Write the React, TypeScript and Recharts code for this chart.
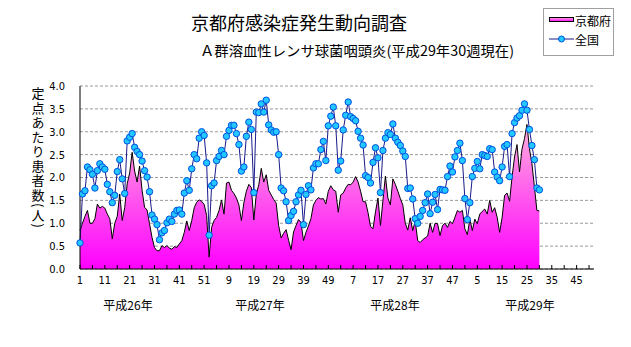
import React from 'react';
import { ComposedChart, Area, Line, XAxis, YAxis, CartesianGrid } from 'recharts';

// ---- data ----
const yearLabels = ['平成26年', '平成27年', '平成28年', '平成29年'];
const weeksPerYear = 52;

// 京都府 (定点あたり患者数) from 平成26年第1週 to 平成29年第30週
const kyotoValues = [
  0.84, 1.00, 1.15, 1.28, 1.00, 1.00, 1.10, 1.42, 1.33, 1.37,
  1.33, 1.20, 1.10, 0.66, 1.00, 1.15, 1.64, 1.06, 1.34, 1.86,
  2.10, 2.55, 2.14, 1.90, 2.25, 1.72, 1.35, 1.29, 0.99, 0.69,
  0.47, 0.40, 0.40, 0.51, 0.47, 0.51, 0.46, 0.43, 0.49, 0.47,
  0.55, 0.62, 0.80, 1.05, 0.84, 1.06, 1.34, 1.46, 1.51, 1.48,
  1.41, 1.17, 0.26, 0.91, 1.06, 1.13, 1.28, 1.51, 1.20, 1.88,
  1.90, 1.72, 1.65, 1.55, 1.40, 1.06, 1.45, 1.70, 1.85, 1.78,
  1.07, 1.64, 1.84, 2.20, 1.90, 2.06, 1.72, 1.62, 1.52, 1.44,
  0.95, 0.68, 0.78, 0.86, 0.63, 0.42, 0.81, 0.95, 1.08, 1.02,
  0.62, 0.80, 0.94, 1.10, 1.40, 1.50, 1.56, 1.53, 1.54, 1.42,
  1.70, 1.82, 1.73, 1.70, 1.24, 1.62, 1.66, 1.77, 1.85, 1.84,
  1.90, 2.02, 1.90, 1.70, 1.47, 1.47, 1.23, 0.93, 0.88, 1.25,
  1.55, 0.95, 1.50, 2.03, 1.55, 1.40, 1.97, 1.85, 1.70, 1.54,
  1.40, 1.00, 0.85, 1.12, 0.84, 1.05, 0.62, 0.58, 0.64, 0.68,
  0.72, 1.00, 0.80, 1.00, 0.99, 0.73, 0.95, 1.00, 0.91, 1.04,
  0.99, 1.13, 1.28, 1.24, 1.28, 0.88, 0.75, 1.09, 0.84, 1.09,
  0.99, 1.20, 1.26, 1.31, 1.20, 1.50, 1.24, 1.34, 1.13, 0.80,
  1.13, 1.61, 1.66, 1.48, 2.01, 2.45, 2.72, 2.12, 2.62, 2.85,
  3.16, 2.63, 2.30, 1.80, 1.28, 1.27,
];

// 全国
const zenkokuValues = [
  0.57, 1.64, 1.71, 2.23, 2.17, 2.07, 1.77, 2.15, 2.30, 2.23,
  2.18, 1.85, 1.69, 1.45, 1.61, 2.13, 2.39, 1.97, 1.65, 2.80,
  2.88, 2.96, 2.66, 2.57, 2.50, 2.36, 2.15, 2.01, 1.69, 1.18,
  1.09, 0.97, 0.64, 0.79, 0.84, 1.01, 1.09, 1.04, 1.20, 1.28,
  1.29, 1.20, 1.66, 1.93, 1.72, 2.19, 2.50, 2.41, 2.86, 3.00,
  2.92, 2.32, 0.74, 1.82, 1.88, 2.37, 2.46, 2.59, 2.50, 2.90,
  3.03, 3.14, 3.14, 2.96, 2.72, 2.14, 2.23, 2.90, 3.21, 3.05,
  1.67, 3.43, 3.42, 3.61, 3.43, 3.69, 3.15, 3.04, 2.99, 3.00,
  2.50, 1.77, 1.71, 1.47, 1.06, 1.17, 1.26, 1.47, 1.62, 1.72,
  0.97, 1.63, 1.82, 1.73, 2.21, 2.30, 2.30, 2.61, 2.79, 2.37,
  3.13, 3.34, 3.54, 3.13, 2.16, 2.36, 3.04, 3.36, 3.65, 3.33,
  3.29, 3.24, 3.01, 2.86, 2.71, 2.04, 2.00, 1.88, 2.33, 2.65,
  2.43, 1.67, 2.59, 2.86, 2.98, 2.94, 3.17, 2.86, 2.77, 2.70,
  2.58, 2.46, 1.76, 1.77, 1.53, 1.10, 1.00, 1.15, 1.28, 1.45,
  1.64, 1.21, 1.46, 1.63, 1.30, 1.74, 1.73, 1.72, 2.02, 2.25,
  2.12, 2.45, 2.59, 2.75, 2.37, 1.54, 1.08, 1.45, 2.02, 2.20,
  2.35, 2.19, 2.50, 2.48, 2.46, 2.63, 2.61, 2.12, 2.01, 1.93,
  2.23, 2.68, 2.72, 2.02, 2.96, 3.20, 3.30, 3.35, 3.47, 3.61,
  3.47, 3.05, 2.70, 2.39, 1.77, 1.73,
];

const yTicks = [0, 0.5, 1, 1.5, 2, 2.5, 3, 3.5, 4];

// week number label for every category position on the axis (4 years x 52 weeks)
const weekCategories: number[] = [];
for (let y = 0; y < yearLabels.length; y++) {
  for (let w = 1; w <= weeksPerYear; w++) weekCategories.push(w);
}
const lastIndex = weekCategories.length - 1;
const xTickIndexes: number[] = [];
for (let i = 0; i <= lastIndex; i += 5) xTickIndexes.push(i);

const chartData = kyotoValues.map((v, i) => ({
  idx: i,
  week: weekCategories[i],
  kyoto: v,
  zenkoku: zenkokuValues[i],
}));

// ---- styling ----
const W = 631;
const H = 347;
const JP = "'Noto Sans CJK JP', sans-serif";
const NUM = "'Liberation Sans Narrow', 'DejaVu Sans Condensed', 'Liberation Sans', sans-serif";
const X_TICK_MARGIN = 7;

const XTick = (props: any) => {
  const { x, y, payload } = props;
  const idx = payload.value as number;
  const axisY = y - X_TICK_MARGIN;
  const label = idx % 10 === 0 ? String(weekCategories[idx]) : '';
  return (
    <g>
      <line x1={x} x2={x} y1={axisY} y2={axisY - 4} stroke="#000" strokeWidth={1} />
      {label ? (
        <text x={x} y={y} dy="0.71em" textAnchor="middle" fontSize={11} fill="#000" fontFamily={NUM}>
          {label}
        </text>
      ) : null}
    </g>
  );
};

const yearCenters = [128, 260, 395, 530];

export default function App() {
  return (
    <div style={{ position: 'absolute', left: 0, top: 0, width: W, height: H, background: '#fff' }}>
      <svg width={0} height={0} style={{ position: 'absolute' }}>
        <defs>
          <linearGradient id="pinkFill" x1="0" y1="0" x2="0" y2="1">
            <stop offset="0%" stopColor="#ffb0dc" />
            <stop offset="100%" stopColor="#ff00ff" />
          </linearGradient>
        </defs>
      </svg>
      <ComposedChart
        width={W}
        height={H}
        data={chartData}
        margin={{ top: 86, right: 37, bottom: 48, left: 40 }}
      >
        <CartesianGrid vertical={false} stroke="#9a9a9a" strokeDasharray="3 2" />
        <XAxis
          dataKey="idx"
          type="number"
          domain={[0, lastIndex]}
          ticks={xTickIndexes}
          interval={0}
          tick={<XTick />}
          tickLine={false}
          tickSize={0}
          tickMargin={X_TICK_MARGIN}
          axisLine={{ stroke: '#000' }}
          height={30}
        />
        <YAxis
          type="number"
          domain={[0, 4]}
          ticks={yTicks}
          interval={0}
          tickFormatter={(v: number) => v.toFixed(1)}
          tick={{ fontSize: 11, fill: '#000', fontFamily: NUM }}
          tickLine={false}
          tickSize={0}
          tickMargin={15}
          axisLine={{ stroke: '#000' }}
          width={40}
        />
        <Area
          type="linear"
          dataKey="kyoto"
          stroke="#000"
          strokeWidth={1}
          fill="url(#pinkFill)"
          fillOpacity={1}
          isAnimationActive={false}
          dot={false}
          activeDot={false}
        />
        <Line
          type="linear"
          dataKey="zenkoku"
          stroke="#1a1a8c"
          strokeWidth={1}
          dot={{ r: 3.2, fill: '#22c8ff', stroke: '#0050e0', strokeWidth: 1 }}
          activeDot={false}
          isAnimationActive={false}
        />
      </ComposedChart>
      <svg width={W} height={H} style={{ position: 'absolute', left: 0, top: 0, pointerEvents: 'none' }}>
        <text x={299} y={22} textAnchor="middle" dominantBaseline="central" fontSize={18} fontFamily={JP} fill="#000">
          京都府感染症発生動向調査
        </text>
        <text x={200} y={50} dominantBaseline="central" fontSize={14} fontFamily={JP} fill="#000" textLength={314} lengthAdjust="spacingAndGlyphs">
          Ａ群溶血性レンサ球菌咽頭炎(平成29年30週現在)
        </text>
        <text x={38} y={87} fontSize={13} fontFamily={JP} fill="#000" letterSpacing={1.5} style={{ writingMode: 'vertical-rl' } as any}>
          定点あたり患者数(人)
        </text>
        {yearLabels.map((t, i) => (
          <text key={t} x={yearCenters[i]} y={304} textAnchor="middle" dominantBaseline="central" fontSize={12} fontFamily={JP} fill="#000">
            {t}
          </text>
        ))}
        {/* legend */}
        <rect x={543.5} y={8.5} width={70} height={47} fill="#fff" stroke="#a0a0a0" />
        <rect x={549.5} y={17.5} width={24} height={4} fill="url(#pinkFill)" stroke="#000" />
        <text x={575} y={20} dominantBaseline="central" fontSize={12} fontFamily={JP} fill="#000">京都府</text>
        <line x1={549} x2={574} y1={39} y2={39} stroke="#1a1a8c" strokeWidth={1} />
        <circle cx={561.5} cy={39} r={3} fill="#22c8ff" stroke="#0050e0" strokeWidth={1} />
        <text x={575} y={39} dominantBaseline="central" fontSize={12} fontFamily={JP} fill="#000">全国</text>
      </svg>
    </div>
  );
}
